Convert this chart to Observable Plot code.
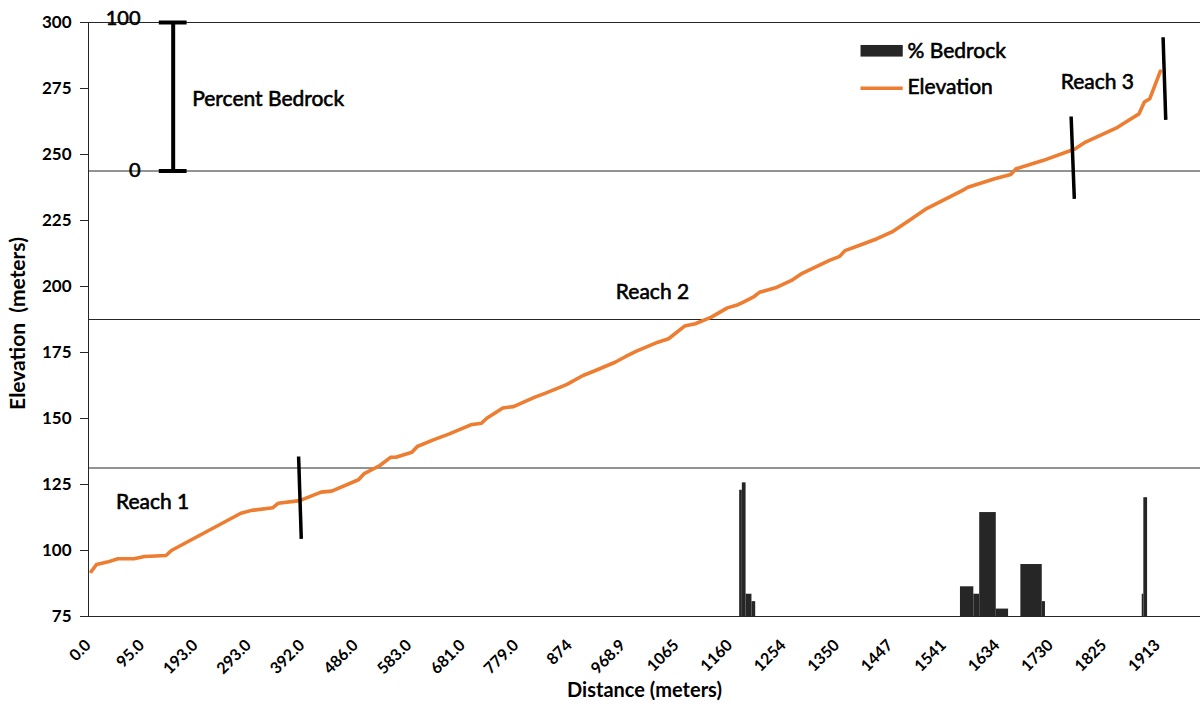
<!DOCTYPE html>
<html><head><meta charset="utf-8">
<script src="https://cdn.jsdelivr.net/npm/d3@7"></script>
<script src="https://cdn.jsdelivr.net/npm/@observablehq/plot@0.6"></script>
<style>
body{margin:0;background:#fff;}
#chart{width:1201px;height:706px;}
svg text{white-space:pre;}
</style></head><body><div id="chart"></div>
<script>
// ---- Data ----
const categoryCount = 208;                 // distance categories on the x axis
const tickIndex = [0,10,20,30,40,50,60,70,80,90,100,110,120,130,140,150,160,170,180,190,200];
const tickLabels = ["0.0","95.0","193.0","293.0","392.0","486.0","583.0","681.0","779.0","874","968.9","1065","1160","1254","1350","1447","1541","1634","1730","1825","1913"];
const elevTicks = [75,100,125,150,175,200,225,250,275,300];

// Elevation profile (category index, elevation in m)
const elevIdx = [0,1,3,5,8,10,14,15,28,30,34,35,39,43,45,50,51,54,56,57,60,61,64,67,71,73,74,77,79,83,85,88,89,92,94,98,100,102,106,108,111,113,116,119,121,122,124,125,128,131,133,138,140,141,144,147,150,153,156,163,164,169,172,173,178,184,186,192,194,196,197,198,200];
const elevVal = [92.0,94.7,95.6,96.9,96.9,97.7,98.1,100.0,114.1,115.2,116.2,117.9,118.9,122.1,122.5,126.8,129.0,132.2,135.3,135.3,137.2,139.4,141.9,144.2,147.6,148.2,150.1,154.0,154.5,158.1,159.6,162.1,162.9,166.3,167.9,171.3,173.5,175.5,178.9,180.2,185.0,185.9,188.4,191.9,193.1,194.1,196.2,197.8,199.5,202.3,205.0,209.8,211.4,213.6,215.8,218.1,220.9,225.0,229.2,236.4,237.6,240.8,242.4,244.6,247.7,252.1,254.7,260.3,262.9,265.4,269.9,271.1,281.6];

// % Bedrock (category span and percent)
const bedrockStart = [121.8,122.3,123.0,124.1,163.1,165.6,166.7,169.8,174.4,178.4,197.1,197.4];
const bedrockEnd   = [122.3,123.0,124.1,124.8,165.6,166.7,169.8,172.1,178.4,179.0,197.4,198.1];
const bedrockPct   = [85,90,15,10,20,15,70,5,35,10,15,80];

// Secondary (percent) axis: 0..400 % mapped onto 75..300 m
const pctMax = 400;
const pctGrid = [100,200,300,400];

// Reach boundaries (category index / elevation of the marker ends)
const reachMarkers = [
  {x1:39.3, y1:135.6, x2:39.8, y2:104.4},
  {x1:183.8, y1:264.4, x2:184.4, y2:233.2},
  {x1:201.0, y1:294.4, x2:201.5, y2:263.1}
];
const reachLabels = [
  {x:12.0, y:118.2, text:"Reach 1"},
  {x:105.5, y:197.7, text:"Reach 2"},
  {x:188.7, y:277.3, text:"Reach 3"}
];

// ---- Build ----
const yMin = 75, yMax = 300;
const pctToY = p => yMin + p * (yMax - yMin) / pctMax;
const elev = elevIdx.map((i, k) => ({x: i + 0.5, y: elevVal[k]}));
const bars = bedrockPct.map((p, k) => ({x1: bedrockStart[k], x2: bedrockEnd[k], pct: p}));
const labelOf = new Map(tickIndex.map((i, k) => [i + 0.5, tickLabels[k]]));

const font = "Lato, 'Open Sans', sans-serif";
const ink = "#000";
const lineCol = "#262626";
const scaleX = 15.84;          // position of the percent scale bar (category units)
const scale0 = 243.75, scale100 = 300;   // 0 % and 100 % of the bedrock scale bar
const med = {fill: ink, stroke: ink, strokeWidth: 0.6};

const chart = Plot.plot({
  width: 1201, height: 706,
  marginLeft: 88, marginRight: 1, marginTop: 22, marginBottom: 90,
  style: {fontFamily: font, background: "#fff", overflow: "visible", color: ink},
  x: {domain: [0, categoryCount]},
  y: {domain: [yMin, yMax]},
  marks: [
    Plot.ruleY(pctGrid.map(pctToY), {stroke: lineCol, strokeWidth: 1}),
    Plot.rect(bars, {x1: "x1", x2: "x2", y1: yMin, y2: d => pctToY(d.pct), fill: "#262626"}),
    Plot.line(elev, {x: "x", y: "y", stroke: "#ED7D31", strokeWidth: 3.6, strokeLinejoin: "round", strokeLinecap: "round"}),
    Plot.ruleY([yMin], {stroke: lineCol, strokeWidth: 1}),
    Plot.ruleX([0], {y1: yMin, y2: yMax, stroke: lineCol, strokeWidth: 1}),
    Plot.axisY({ticks: elevTicks, tickSize: 8, tickPadding: 9, fontSize: 17, fontWeight: "bold", fill: ink, stroke: lineCol, label: null}),
    Plot.axisX({ticks: tickIndex.map(i => i + 0.5), tickFormat: v => labelOf.get(v), tickRotate: -45, tickSize: 0, tickPadding: 26, dx: -3, fontSize: 16, fontWeight: "bold", fill: ink, label: null}),
    Plot.text(["Elevation\u00a0 (meters)"], {frameAnchor: "left", dx: -70, dy: 4, rotate: -90, textAnchor: "middle", lineAnchor: "middle", fontSize: 21, fontWeight: "bold", fill: ink, style: "letter-spacing:1px"}),
    Plot.text(["Distance (meters)"], {frameAnchor: "bottom", dy: 74, textAnchor: "middle", lineAnchor: "middle", fontSize: 20, fontWeight: "bold", fill: ink}),
    // reach markers & labels
    Plot.link(reachMarkers, {x1: "x1", y1: "y1", x2: "x2", y2: "y2", stroke: "#000", strokeWidth: 3.5}),
    Plot.text(reachLabels, {x: "x", y: "y", text: "text", fontSize: 21, ...med}),
    // percent bedrock scale bar
    Plot.ruleX([scaleX], {y1: scale0, y2: scale100, stroke: "#000", strokeWidth: 4}),
    Plot.ruleY([scale0, scale100], {x1: scaleX - 2.6, x2: scaleX + 2.6, stroke: "#000", strokeWidth: 4}),
    Plot.text(["100"], {x: 9.73, y: scale100, dy: -4, textAnchor: "end", fontSize: 20, ...med}),
    Plot.text(["0"], {x: 9.73, y: scale0, textAnchor: "end", fontSize: 20, ...med}),
    Plot.text(["Percent Bedrock"], {x: 19.4, y: 270.8, textAnchor: "start", fontSize: 21, ...med}),
    // legend
    Plot.rect([0], {x1: 144.5, x2: 152.4, y1: 286.9, y2: 291.3, fill: "#262626"}),
    Plot.ruleY([275.1], {x1: 144.5, x2: 152.4, stroke: "#ED7D31", strokeWidth: 3.6}),
    Plot.text([{y: 289.1, t: "% Bedrock"}, {y: 275.5, t: "Elevation"}], {x: 153.2, y: "y", text: "t", textAnchor: "start", fontSize: 21, ...med})
  ]
});
document.getElementById("chart").appendChild(chart);
</script>
</body></html>
